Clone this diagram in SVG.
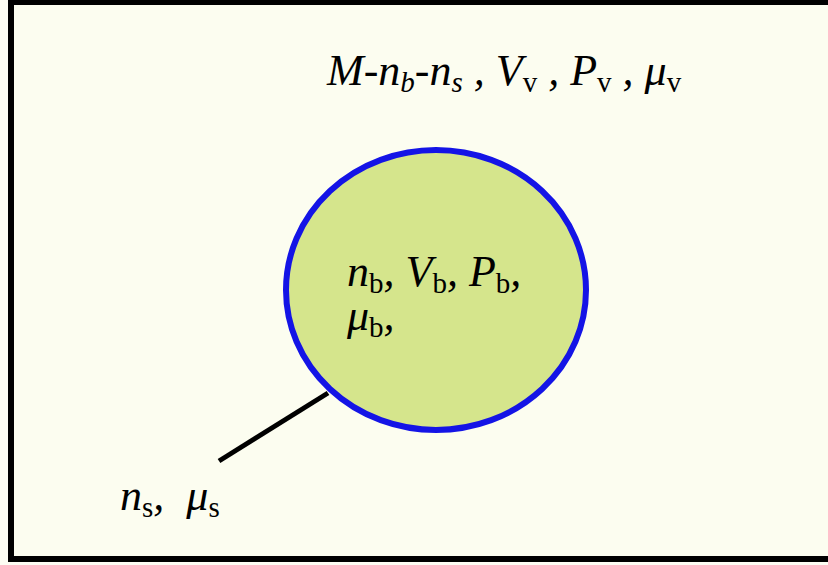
<svg xmlns="http://www.w3.org/2000/svg" width="828" height="565" viewBox="0 0 828 565">
<style>
text{font-family:"Liberation Serif","Times New Roman",serif;fill:#000;white-space:pre}
.m{font-size:44px;font-style:italic}
.s{font-size:29px;font-style:normal}
.si{font-size:29px;font-style:italic}
</style>
<rect x="0" y="0" width="828" height="565" fill="#fdfdf3"/>
<rect id="frame" x="11" y="2" width="830" height="557" fill="#fcfdf0" stroke="#000" stroke-width="6"/>
<g id="connectors">
<line x1="219" y1="461" x2="328" y2="393" stroke="#000" stroke-width="5"/>
</g>
<g id="bubble">
<ellipse cx="436" cy="290" rx="150" ry="140" fill="#d5e58c" stroke="#1414e6" stroke-width="6"/>
<text class="m" x="347" y="286" xml:space="preserve">n<tspan class="s" dy="7">b</tspan><tspan dy="-7">, V</tspan><tspan class="s" dy="7">b</tspan><tspan dy="-7">, P</tspan><tspan class="s" dy="7">b</tspan><tspan dy="-7">,</tspan><tspan x="347" y="330">μ</tspan><tspan class="s" dy="7">b</tspan><tspan dy="-7">,</tspan></text>
</g>
<g id="vapor">
<text class="m" x="327" y="85" xml:space="preserve">M-n<tspan class="si" dy="7">b</tspan><tspan dy="-7">-n</tspan><tspan class="si" dy="7">s</tspan><tspan dy="-7"> , V</tspan><tspan class="s" dy="7">v</tspan><tspan dy="-7"> , P</tspan><tspan class="s" dy="7">v</tspan><tspan dy="-7"> , μ</tspan><tspan class="s" dy="7">v</tspan></text>
</g>
<g id="surface">
<text class="m" x="120" y="510" xml:space="preserve">n<tspan class="s" dy="7">s</tspan><tspan dy="-7">,  μ</tspan><tspan class="s" dy="7">s</tspan></text>
</g>
</svg>
